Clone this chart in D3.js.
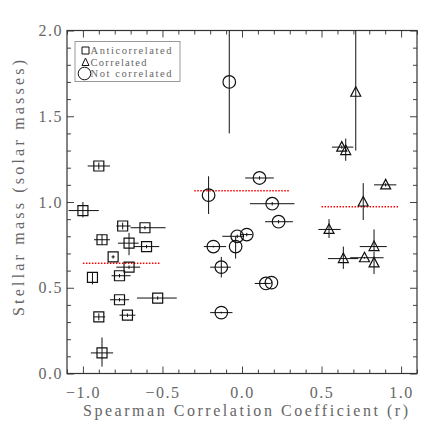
<!DOCTYPE html>
<html>
<head>
<meta charset="utf-8">
<script src="https://cdn.jsdelivr.net/npm/d3@7"></script>
<style>
  body { margin: 0; background: #fff; }
  text { font-family: "Liberation Serif", serif; fill: #666; }
</style>
</head>
<body>
<svg id="chart" width="436" height="436"></svg>
<script>
// each row: r, mass, r low, r high, mass low, mass high
var anticorrelated = [
  [-0.90, 1.21, -0.97, -0.83, 1.19, 1.23],
  [-1.00, 0.95, -1.09, -0.90, 0.91, 1.00],
  [-0.75, 0.86, -0.79, -0.70, 0.84, 0.88],
  [-0.61, 0.85, -0.70, -0.48, 0.84, 0.86],
  [-0.88, 0.78, -0.93, -0.83, 0.75, 0.81],
  [-0.71, 0.76, -0.78, -0.65, 0.69, 0.82],
  [-0.60, 0.74, -0.68, -0.52, 0.73, 0.75],
  [-0.81, 0.68, -0.82, -0.80, 0.67, 0.69],
  [-0.71, 0.62, -0.79, -0.64, 0.61, 0.63],
  [-0.77, 0.57, -0.82, -0.70, 0.56, 0.58],
  [-0.94, 0.56, -0.94, -0.94, 0.52, 0.59],
  [-0.77, 0.43, -0.83, -0.71, 0.42, 0.44],
  [-0.53, 0.44, -0.66, -0.41, 0.43, 0.45],
  [-0.90, 0.33, -0.93, -0.86, 0.31, 0.35],
  [-0.72, 0.34, -0.77, -0.67, 0.33, 0.35],
  [-0.88, 0.12, -0.95, -0.81, 0.04, 0.21]
];
var correlated = [
  [0.715, 1.64, 0.715, 0.715, 1.30, 2.20],
  [0.627, 1.32, 0.565, 0.70, 1.31, 1.33],
  [0.652, 1.30, 0.652, 0.652, 1.24, 1.37],
  [0.903, 1.10, 0.83, 0.97, 1.09, 1.11],
  [0.762, 1.00, 0.762, 0.762, 0.895, 1.11],
  [0.547, 0.84, 0.48, 0.62, 0.79, 0.90],
  [0.83, 0.74, 0.74, 0.91, 0.72, 0.84],
  [0.637, 0.67, 0.54, 0.73, 0.61, 0.74],
  [0.77, 0.675, 0.68, 0.89, 0.67, 0.68],
  [0.83, 0.645, 0.83, 0.83, 0.58, 0.71]
];
var notCorrelated = [
  [-0.08, 1.70, -0.08, -0.08, 1.40, 2.20],
  [0.11, 1.14, 0.02, 0.20, 1.13, 1.15],
  [-0.21, 1.04, -0.21, -0.21, 0.93, 1.15],
  [0.19, 0.99, 0.05, 0.33, 0.98, 1.00],
  [0.23, 0.885, 0.145, 0.32, 0.875, 0.895],
  [-0.03, 0.80, -0.124, 0.01, 0.79, 0.81],
  [0.03, 0.81, -0.01, 0.065, 0.80, 0.82],
  [-0.04, 0.74, -0.04, -0.04, 0.67, 0.80],
  [-0.18, 0.74, -0.24, -0.10, 0.735, 0.745],
  [-0.13, 0.62, -0.20, -0.07, 0.56, 0.68],
  [0.15, 0.525, 0.08, 0.18, 0.52, 0.53],
  [0.185, 0.53, 0.185, 0.185, 0.525, 0.535],
  [-0.13, 0.355, -0.20, -0.06, 0.35, 0.36]
];
// group means: mass, r start, r end
var meanLines = [
  [0.643, -1.00, -0.51],
  [1.066, -0.30, 0.30],
  [0.973, 0.50, 0.99]
];
var legendLabels = ['Anticorrelated', 'Correlated', 'Not correlated'];
var xMajor = [-1.0, -0.5, 0.0, 0.5, 1.0];
var yMajor = [0.0, 0.5, 1.0, 1.5, 2.0];

var svg = d3.select('#chart');
var plotLeft = 67, plotRight = 417, plotTop = 30.5, plotBottom = 373.5;

var x = d3.scaleLinear().domain([-1.1, 1.1]).range([plotLeft, plotRight]);
var y = d3.scaleLinear().domain([0, 2]).range([plotBottom, plotTop]);

var xMinor = d3.range(-11, 12).map(function(i) { return i / 10; }).filter(function(v) { return xMajor.indexOf(v) < 0; });
var yMinor = d3.range(0, 21).map(function(i) { return i / 10; }).filter(function(v) { return yMajor.indexOf(v) < 0; });

function styleAxis(g) {
  g.select('.domain').remove();
  g.selectAll('line').attr('stroke', '#444');
  g.selectAll('text').style('font-size', '16px').style('letter-spacing', '1.5px').attr('fill', '#666');
}

// major axes with labels
svg.append('g').attr('transform', 'translate(0,' + plotBottom + ')')
  .call(d3.axisBottom(x).tickValues(xMajor).tickFormat(d3.format('.1f')).tickSizeInner(-7).tickSizeOuter(0).tickPadding(13))
  .call(styleAxis);
svg.append('g').attr('transform', 'translate(' + plotLeft + ',0)')
  .call(d3.axisLeft(y).tickValues(yMajor).tickFormat(d3.format('.1f')).tickSizeInner(-7).tickSizeOuter(0).tickPadding(4))
  .call(styleAxis);
// mirrored ticks
svg.append('g').attr('transform', 'translate(0,' + plotTop + ')')
  .call(d3.axisTop(x).tickValues(xMajor).tickFormat('').tickSizeInner(-7).tickSizeOuter(0))
  .call(styleAxis);
svg.append('g').attr('transform', 'translate(' + plotRight + ',0)')
  .call(d3.axisRight(y).tickValues(yMajor).tickFormat('').tickSizeInner(-7).tickSizeOuter(0))
  .call(styleAxis);
// minor ticks
svg.append('g').attr('transform', 'translate(0,' + plotBottom + ')')
  .call(d3.axisBottom(x).tickValues(xMinor).tickFormat('').tickSizeInner(-4).tickSizeOuter(0)).call(styleAxis);
svg.append('g').attr('transform', 'translate(0,' + plotTop + ')')
  .call(d3.axisTop(x).tickValues(xMinor).tickFormat('').tickSizeInner(-4).tickSizeOuter(0)).call(styleAxis);
svg.append('g').attr('transform', 'translate(' + plotLeft + ',0)')
  .call(d3.axisLeft(y).tickValues(yMinor).tickFormat('').tickSizeInner(-4).tickSizeOuter(0)).call(styleAxis);
svg.append('g').attr('transform', 'translate(' + plotRight + ',0)')
  .call(d3.axisRight(y).tickValues(yMinor).tickFormat('').tickSizeInner(-4).tickSizeOuter(0)).call(styleAxis);

// frame
svg.append('rect')
  .attr('x', plotLeft).attr('y', plotTop)
  .attr('width', plotRight - plotLeft).attr('height', plotBottom - plotTop)
  .attr('fill', 'none').attr('stroke', '#333').attr('stroke-width', 1.2);

// axis titles
svg.append('text')
  .attr('x', 83).attr('y', 416)
  .attr('textLength', 325).attr('lengthAdjust', 'spacing')
  .style('font-size', '16px')
  .text('Spearman Correlation Coefficient (r)');
svg.append('text')
  .attr('transform', 'translate(24,316) rotate(-90)')
  .attr('textLength', 256).attr('lengthAdjust', 'spacing')
  .style('font-size', '16px')
  .text('Stellar mass (solar masses)');

svg.append('clipPath').attr('id', 'plotclip')
  .append('rect').attr('x', plotLeft).attr('y', plotTop).attr('width', plotRight - plotLeft).attr('height', plotBottom - plotTop);

var plot = svg.append('g').attr('clip-path', 'url(#plotclip)');

// mean lines
plot.selectAll('.mean')
  .data(meanLines)
  .enter().append('line')
  .attr('class', 'mean')
  .attr('x1', function(d) { return x(d[1]); })
  .attr('x2', function(d) { return x(d[2]); })
  .attr('y1', function(d) { return y(d[0]); })
  .attr('y2', function(d) { return y(d[0]); })
  .attr('stroke', '#f00')
  .attr('stroke-width', 1.5)
  .attr('stroke-dasharray', '1.5,1.5');

function drawGroup(data, shape) {
  var g = plot.append('g');
  g.selectAll('.xerr').data(data).enter().append('line')
    .attr('x1', function(d) { return x(d[2]); })
    .attr('x2', function(d) { return x(d[3]); })
    .attr('y1', function(d) { return y(d[1]); })
    .attr('y2', function(d) { return y(d[1]); })
    .attr('stroke', '#111').attr('stroke-width', 1);
  g.selectAll('.yerr').data(data).enter().append('line')
    .attr('x1', function(d) { return x(d[0]); })
    .attr('x2', function(d) { return x(d[0]); })
    .attr('y1', function(d) { return y(d[4]); })
    .attr('y2', function(d) { return y(d[5]); })
    .attr('stroke', '#111').attr('stroke-width', 1);
  g.selectAll('.mark').data(data).enter().append('path')
    .attr('transform', function(d) { return 'translate(' + x(d[0]) + ',' + y(d[1]) + ')'; })
    .attr('d', shape)
    .attr('fill', 'none')
    .attr('stroke', '#111')
    .attr('stroke-width', 1.2);
}

var squareShape = 'M-5,-5H5V5H-5Z';
var triangleShape = 'M0,-5.5L5,4L-5,4Z';
var circleShape = 'M6.3,0A6.3,6.3 0 1,1 -6.3,0A6.3,6.3 0 1,1 6.3,0Z';

drawGroup(anticorrelated, squareShape);
drawGroup(correlated, triangleShape);
drawGroup(notCorrelated, circleShape);

// legend
var legend = svg.append('g');
legend.append('rect')
  .attr('x', 75).attr('y', 41.5).attr('width', 105).attr('height', 40)
  .attr('fill', '#fff').attr('stroke', '#999').attr('stroke-width', 1);
var legendShapes = ['M-3.5,-3.5H3.5V3.5H-3.5Z', 'M0,-4L3.5,3.5L-3.5,3.5Z', circleShape];
var legendY = [50.5, 62, 73.5];
var legendWidths = [81, 56, 81];
legend.selectAll('.lsym').data(legendLabels).enter().append('path')
  .attr('transform', function(d, i) { return 'translate(' + (i == 2 ? 84.5 : 85.5) + ',' + legendY[i] + ')'; })
  .attr('d', function(d, i) { return legendShapes[i]; })
  .attr('fill', 'none').attr('stroke', '#111').attr('stroke-width', 1);
legend.selectAll('.ltext').data(legendLabels).enter().append('text')
  .attr('x', 90.5)
  .attr('y', function(d, i) { return legendY[i] + 3.5; })
  .attr('textLength', function(d, i) { return legendWidths[i]; })
  .attr('lengthAdjust', 'spacing')
  .style('font-size', '10.5px')
  .attr('fill', '#555')
  .text(function(d) { return d; });
</script>
</body>
</html>
